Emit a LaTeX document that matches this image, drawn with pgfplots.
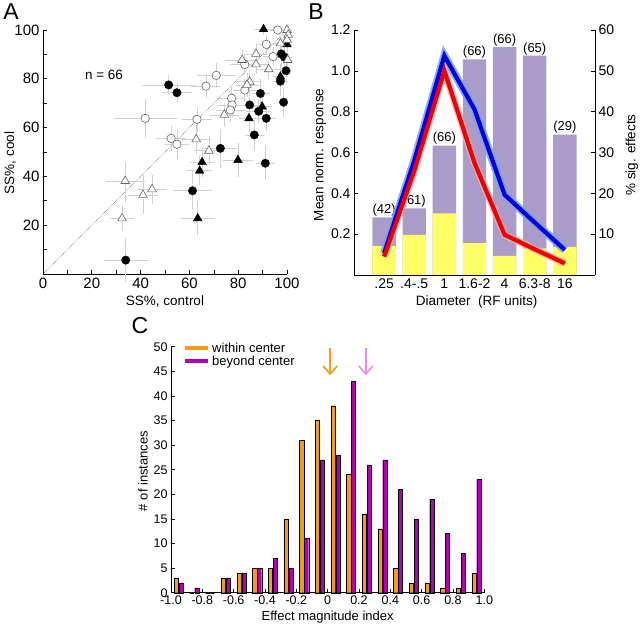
\documentclass[border=0pt]{standalone}
\usepackage{fontspec}
\setmainfont{Liberation Sans}
\usepackage{pgfplots}
\usepackage{pgfplotstable}
\pgfplotsset{compat=1.18}
\usetikzlibrary{arrows.meta}
\newcommand{\fsz}[1]{\fontsize{#1}{#1}\selectfont}
\definecolor{barpurple}{RGB}{170,156,200}
\definecolor{baryellow}{RGB}{255,255,102}
\definecolor{orangeC}{RGB}{245,155,20}
\definecolor{purpleC}{RGB}{178,0,178}
\definecolor{violetA}{RGB}{232,140,232}
\definecolor{bandblue}{RGB}{125,165,230}
\definecolor{bandred}{RGB}{250,170,170}
\definecolor{lineblue}{RGB}{0,0,235}
\definecolor{linered}{RGB}{240,0,0}

\pgfplotstableread{
x y ex ey
51.5 77.5 11 4
54.9 74.3 6 4
97.7 90.2 3 5
98.9 88.9 3 5
99.6 83.3 2 5
97.3 79.0 3 6
89.1 74.0 4 6
84.7 69.3 4 6
88.4 66.7 5 5
91.5 63.8 4 5
98.6 70.4 2 6
86.6 57.0 4 6
72.7 51.5 7 8
91.1 45.4 4 7
61.3 34.1 8 8
33.9 5.7 9 9
}\fcirc
\pgfplotstableread{
x y ex ey
90.4 100.3 4 2
100 94.1 2 4
97.3 80.9 3 5
89.8 68.6 4 5
84.4 63.8 4 6
65.2 45.8 5 6
64.2 42.3 5 6
79.9 46.7 6 7
63.4 22.8 7 7
}\ftri
\pgfplotstableread{
x y ex ey
96.2 100 3 2
91.5 94.1 4 4
94.3 89.1 4 4
82.7 85.9 6 4
71.0 81.4 8 5
66.8 77.0 6 5
82.7 75.4 5 5
77.3 72.0 6 5
77.5 69.3 6 5
76.8 67.2 6 5
63.1 63.4 6 5
41.9 63.8 13 8
52.5 55.6 6 5
54.9 53.2 5 6
}\ocirc
\pgfplotstableread{
x y ex ey
100 100 2 2
100.5 98 2 2
100 96 2 2
97.3 94.5 3 3
81.6 87.7 7 4
87.3 90.2 5 4
87.3 85.9 5 4
100.3 87.7 2 4
92.5 83.9 5 4
84.7 78.8 5 5
83.6 77.5 5 5
74.3 65.2 6 5
62.8 55.2 6 6
68.0 50.5 6 6
33.7 38.1 8 8
41.0 32.4 6 8
44.7 34.7 6 6
32.4 22.8 5 5
}\otri
\pgfplotstableread{
x tot fac lab
1 14.1 7.1 (42)
2 16.3 9.8 (61)
3 31.7 15.1 (66)
4 52.8 7.8 (66)
5 55.8 4.7 (66)
6 53.7 6.5 (65)
7 34.4 6.9 (29)
}\barB
\pgfplotstableread{
x blue red
1 0.107 0.090
2 0.560 0.510
3 1.074 1.000
4 0.811 0.549
5 0.393 0.197
6 0.257 0.126
7 0.123 0.057
}\lineB
\pgfplotstableread{
x w b
-0.95 3 2
-0.85 0 1
-0.75 0 0
-0.65 3 3
-0.55 4 4
-0.45 5 5
-0.35 5 7
-0.25 15 5
-0.15 31 11
-0.05 35 27
0.05 38 28
0.15 24 43
0.25 16 26
0.35 13 27
0.45 5 21
0.55 2 15
0.65 2 19
0.75 1 12
0.85 1 8
0.95 4 23
}\histC

\pgfplotsset{
  myax/.style={
    scale only axis, anchor=south west,
    axis line style={-, line width=0.6pt, black},
    every tick/.style={black, line width=0.6pt},
    tick align=inside,
    major tick length=3.5pt, minor tick length=3.5pt,
    /pgf/number format/assume math mode=true,
  },
  errA/.style={only marks, mark=none,
    error bars/.cd, x dir=both, x explicit, y dir=both, y explicit,
    error mark=none, error bar style={black!18, line width=0.7pt}},
}

\begin{document}
\begin{tikzpicture}
\useasboundingbox (0pt,0pt) rectangle (640pt,625pt);

% ---------------- Panel A ----------------
\begin{axis}[myax,
  at={(43pt,351pt)}, width=244pt, height=244pt,
  xmin=0, xmax=100, ymin=0, ymax=100,
  axis x line*=bottom, axis y line*=left,
  xtick={0,20,40,60,80,100}, ytick={20,40,60,80,100},
  minor xtick={10,30,50,70,90}, minor ytick={10,30,50,70,90},
  ticklabel style={font=\fsz{15}},
  xlabel={SS\%, control}, ylabel={SS\%, cool},
  label style={font=\fsz{13.5}},
  xlabel style={at={(axis description cs:0.5,-0.1135)}, anchor=center},
  ylabel style={at={(axis description cs:-0.135,0.455)}, anchor=center},
  clip=false,
]
\addplot[black!60, densely dotted, line width=0.6pt] coordinates {(0,0) (100,100)};
\addplot[errA] table[x=x, y=y, x error=ex, y error=ey]{\fcirc};
\addplot[errA] table[x=x, y=y, x error=ex, y error=ey]{\ftri};
\addplot[errA] table[x=x, y=y, x error=ex, y error=ey]{\ocirc};
\addplot[errA] table[x=x, y=y, x error=ex, y error=ey]{\otri};
\addplot[only marks, mark=*, mark size=4.2pt, mark options={draw=black, fill=black}] table[x=x,y=y]{\fcirc};
\addplot[only marks, mark=triangle*, mark size=5pt, mark options={draw=black, fill=black}] table[x=x,y=y]{\ftri};
\addplot[only marks, mark=*, mark size=4.2pt, mark options={draw=black!60, fill=white, line width=0.6pt}] table[x=x,y=y]{\ocirc};
\addplot[only marks, mark=triangle*, mark size=5pt, mark options={draw=black!60, fill=white, line width=0.6pt}] table[x=x,y=y]{\otri};
\node[font=\fsz{13.5}] at (axis cs:25,81.6) {n = 66};
\end{axis}

% ---------------- Panel B (bars, right axis) ----------------
\begin{axis}[myax,
  at={(354pt,350pt)}, width=241pt, height=245pt,
  xmin=0, xmax=8, ymin=0, ymax=60,
  axis x line*=bottom, axis y line*=right,
  xtick={1,2,3,4,5,6,7}, xticklabels={.25,.4-.5,1,1.6-2,4,6.3-8,16},
  xtick style={draw=none},
  ytick={10,20,30,40,50,60},
  ticklabel style={font=\fsz{14}},
  xlabel={Diameter\ \ (RF units)}, ylabel={\% sig. effects},
  label style={font=\fsz{13.5}},
  xlabel style={at={(axis description cs:0.509,-0.109)}, anchor=center},
  ylabel style={at={(axis description cs:1.1535,0.49)}, anchor=center},
  clip=false,
]
\addplot[ybar, bar width=23.3pt, bar shift=0pt, fill=barpurple, draw=none,
  nodes near coords, point meta=explicit symbolic,
  nodes near coords style={font=\fsz{13}, anchor=south, inner sep=0.8pt, black}]
  table[x=x, y=tot, meta=lab]{\barB};
\addplot[ybar, bar width=23.3pt, bar shift=0pt, fill=baryellow, draw=none]
  table[x=x, y=fac]{\barB};
\end{axis}

% ---------------- Panel B (lines, left axis) ----------------
\begin{axis}[myax,
  at={(354pt,350pt)}, width=241pt, height=245pt,
  xmin=0, xmax=8, ymin=0, ymax=1.2,
  axis x line=none, axis y line*=left,
  ytick={0.2,0.4,0.6,0.8,1.0,1.2},
  yticklabels={0.2,0.4,0.6,0.8,1.0,1.2},
  ticklabel style={font=\fsz{14}},
  ylabel={Mean norm. response},
  label style={font=\fsz{13.5}},
  ylabel style={at={(axis description cs:-0.141,0.49)}, anchor=center},
  clip=false,
]
\addplot[bandblue, line width=8pt, opacity=0.9] table[x=x, y=blue]{\lineB};
\addplot[bandred, line width=7pt, opacity=0.8] table[x=x, y=red]{\lineB};
\addplot[lineblue, line width=4.2pt] table[x=x, y=blue]{\lineB};
\addplot[linered, line width=4.2pt] table[x=x, y=red]{\lineB};
\end{axis}

% ---------------- Panel C ----------------
\begin{axis}[myax,
  at={(171pt,32.3pt)}, width=313.3pt, height=246pt,
  xmin=-1, xmax=1, ymin=0, ymax=50,
  axis x line*=bottom, axis y line*=left,
  xtick={-1,-0.8,-0.6,-0.4,-0.2,0,0.2,0.4,0.6,0.8,1},
  xticklabels={-1.0,-0.8,-0.6,-0.4,-0.2,0,0.2,0.4,0.6,0.8,1.0},
  ytick={0,5,10,15,20,25,30,35,40,45,50},
  ticklabel style={font=\fsz{12.5}},
  xlabel={Effect magnitude index}, ylabel={\# of instances},
  label style={font=\fsz{13}},
  xlabel style={at={(axis description cs:0.5,-0.0976)}, anchor=center},
  ylabel style={at={(axis description cs:-0.0895,0.495)}, anchor=center},
  legend style={draw=none, fill=none, at={(rel axis cs:0.04,1.025)}, anchor=north west,
    font=\fsz{13}, row sep=-2pt, inner sep=0pt},
  legend cell align=left,
  legend image code/.code={\draw[#1] (0pt,0pt) -- (23pt,0pt);},
  clip=false,
]
\addplot[ybar, bar width=4.3pt, bar shift=-2.4pt, fill=orangeC, draw=black, line width=0.4pt, forget plot]
  table[x=x, y=w]{\histC};
\addplot[ybar, bar width=4.3pt, bar shift=2.4pt, fill=purpleC, draw=black, line width=0.4pt, forget plot]
  table[x=x, y=b]{\histC};
\addlegendimage{orangeC, line width=3.5pt}
\addlegendentry{within center}
\addlegendimage{purpleC, line width=3.5pt}
\addlegendentry{beyond center}
\addplot[orangeC, line width=1.6pt, -{Straight Barb[length=8pt, width=14pt]}, forget plot]
  coordinates {(0.016,49.7) (0.016,44.2)};
\addplot[violetA, line width=1.6pt, -{Straight Barb[length=8pt, width=14pt]}, forget plot]
  coordinates {(0.244,49.7) (0.244,44.2)};
\end{axis}

% panel letters
\node[font=\fsz{23}] at (11pt,613pt) {A};
\node[font=\fsz{23}] at (316pt,613pt) {B};
\node[font=\fsz{23}] at (140pt,299pt) {C};
\end{tikzpicture}
\end{document}
